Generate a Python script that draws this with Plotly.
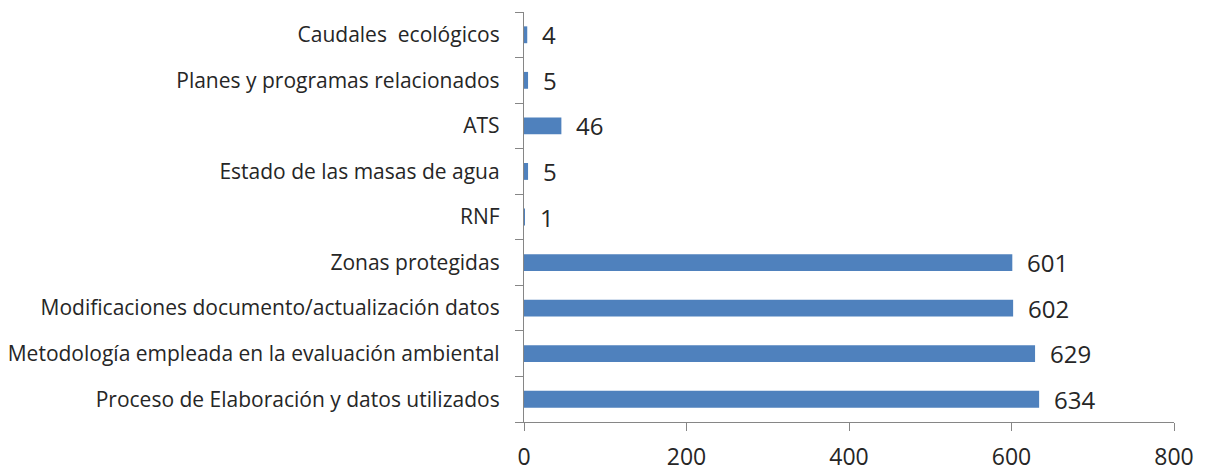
import plotly.graph_objects as go

categories = [
    "Proceso de Elaboración y datos utilizados",
    "Metodología empleada en la evaluación ambiental",
    "Modificaciones documento/actualización datos",
    "Zonas protegidas",
    "RNF",
    "Estado de las masas de agua",
    "ATS",
    "Planes y programas relacionados",
    "Caudales  ecológicos",
]
values = [634, 629, 602, 601, 1, 5, 46, 5, 4]
x_ticks = [0, 200, 400, 600, 800]

bar_color = "#4F81BD"
axis_color = "#868686"
font_family = "'Open Sans', sans-serif"

fig = go.Figure()
fig.add_trace(go.Bar(
    x=values,
    y=categories,
    orientation="h",
    marker=dict(color=bar_color, line=dict(width=0)),
    hoverinfo="x+y",
))

for c, v in zip(categories, values):
    fig.add_annotation(
        x=v, y=c, text=str(v), showarrow=False,
        xanchor="left", yanchor="middle", xshift=13,
        font=dict(size=24, color="#262626", family=font_family),
    )

fig.update_layout(
    width=1204, height=463,
    margin=dict(l=516, r=38, t=4, b=49, autoexpand=False),
    paper_bgcolor="white", plot_bgcolor="white",
    showlegend=False,
    bargap=0.63,
    font=dict(family=font_family, color="#262626"),
)
fig.update_xaxes(
    range=[0, 800], tickvals=x_ticks, ticktext=[str(t) for t in x_ticks],
    showgrid=False, zeroline=False, automargin=False,
    showline=True, linecolor=axis_color, linewidth=1.3,
    ticks="outside", ticklen=8, tickcolor=axis_color, tickwidth=1.3,
    tickfont=dict(size=23, color="#262626"),
    ticklabelstandoff=6,
)
fig.update_yaxes(
    categoryorder="array", categoryarray=categories,
    showgrid=False, zeroline=False, automargin=False,
    showline=True, linecolor=axis_color, linewidth=1.3,
    ticks="outside", ticklen=8, tickcolor=axis_color, tickwidth=1.3,
    tickson="boundaries",
    tickfont=dict(size=21, color="#262626"),
    ticklabelstandoff=19,
)

fig.write_html("out.html")
